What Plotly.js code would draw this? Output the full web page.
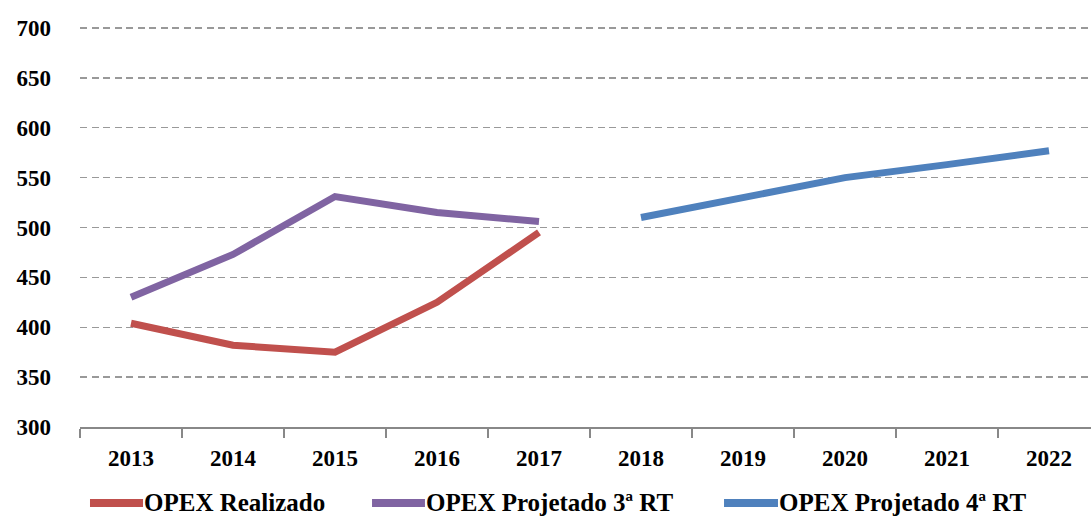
<!DOCTYPE html>
<html>
<head>
<meta charset="utf-8">
<script src="https://cdn.plot.ly/plotly-3.0.1.min.js"></script>
<style>
html,body{margin:0;padding:0;overflow:hidden;background:#fff;}
#chart{width:1100px;height:519px;}
</style>
</head>
<body>
<div id="chart"></div>
<script>
const years = ["2013","2014","2015","2016","2017","2018","2019","2020","2021","2022"];
const realizadoYears = ["2013","2014","2015","2016","2017"];
const realizado = [404, 382, 375, 425, 495];
const projetado3Years = ["2013","2014","2015","2016","2017"];
const projetado3 = [430, 473, 531, 515, 506];
const projetado4Years = ["2018","2019","2020","2021","2022"];
const projetado4 = [510, 530, 550, 563, 577];
const seriesNames = ["OPEX Realizado", "OPEX Projetado 3ª RT", "OPEX Projetado 4ª RT"];
const seriesColors = ["#C0504D", "#8064A2", "#4F81BD"];
const yTicks = [300, 350, 400, 450, 500, 550, 600, 650, 700];

const FAM = "Liberation Serif, Times New Roman, serif";

const traces = [
  {x: realizadoYears, y: realizado, name: seriesNames[0], mode: "lines",
   line: {color: seriesColors[0], width: 7}, showlegend: false},
  {x: projetado3Years, y: projetado3, name: seriesNames[1], mode: "lines",
   line: {color: seriesColors[1], width: 7}, showlegend: false},
  {x: projetado4Years, y: projetado4, name: seriesNames[2], mode: "lines",
   line: {color: seriesColors[2], width: 7}, showlegend: false}
];

// custom legend (line sample + label), positions in paper coords
const legendLineX = [[0.0098, 0.0618], [0.2863, 0.3382], [0.6314, 0.6843]];
const legendY = -0.188;
const shapes = legendLineX.map((xx, i) => ({
  type: "line", xref: "paper", yref: "paper", x0: xx[0], x1: xx[1], y0: legendY, y1: legendY,
  line: {color: seriesColors[i], width: 8}
}));
const annotations = legendLineX.map((xx, i) => ({
  xref: "paper", yref: "paper", x: xx[1], y: legendY, xanchor: "left", yanchor: "middle",
  text: "<b>" + seriesNames[i] + "</b>", showarrow: false, borderpad: 0,
  font: {family: FAM, size: 25, color: "#000"}
}));

const layout = {
  width: 1100, height: 519,
  margin: {l: 80, r: 0, t: 23, b: 92},
  paper_bgcolor: "#fff", plot_bgcolor: "#fff",
  font: {family: FAM, size: 23, color: "#000"},
  showlegend: false,
  shapes: shapes,
  annotations: annotations,
  xaxis: {type: "category", categoryorder: "array", categoryarray: years,
          tickvals: years, ticktext: years.map(y => "<b>" + y + "</b>"),
          range: [-0.5, 9.5], tickson: "boundaries", ticks: "outside", ticklen: 9,
          tickcolor: "#888", tickwidth: 1.5,
          showline: true, linecolor: "#888", linewidth: 1.5, showgrid: false,
          tickfont: {family: FAM, size: 23, color: "#000"},
          ticklabelstandoff: 10, fixedrange: true},
  yaxis: {range: [300, 705], tickvals: yTicks, ticktext: yTicks.map(v => "<b>" + v + "</b>"),
          showgrid: true, gridcolor: "#999", gridwidth: 1.5, griddash: "7px,4.5px",
          zeroline: false, showline: false, ticks: "",
          tickfont: {family: FAM, size: 23, color: "#000"},
          ticklabelstandoff: 28, fixedrange: true}
};

Plotly.newPlot("chart", traces, layout, {displayModeBar: false, staticPlot: true});
</script>
</body>
</html>
